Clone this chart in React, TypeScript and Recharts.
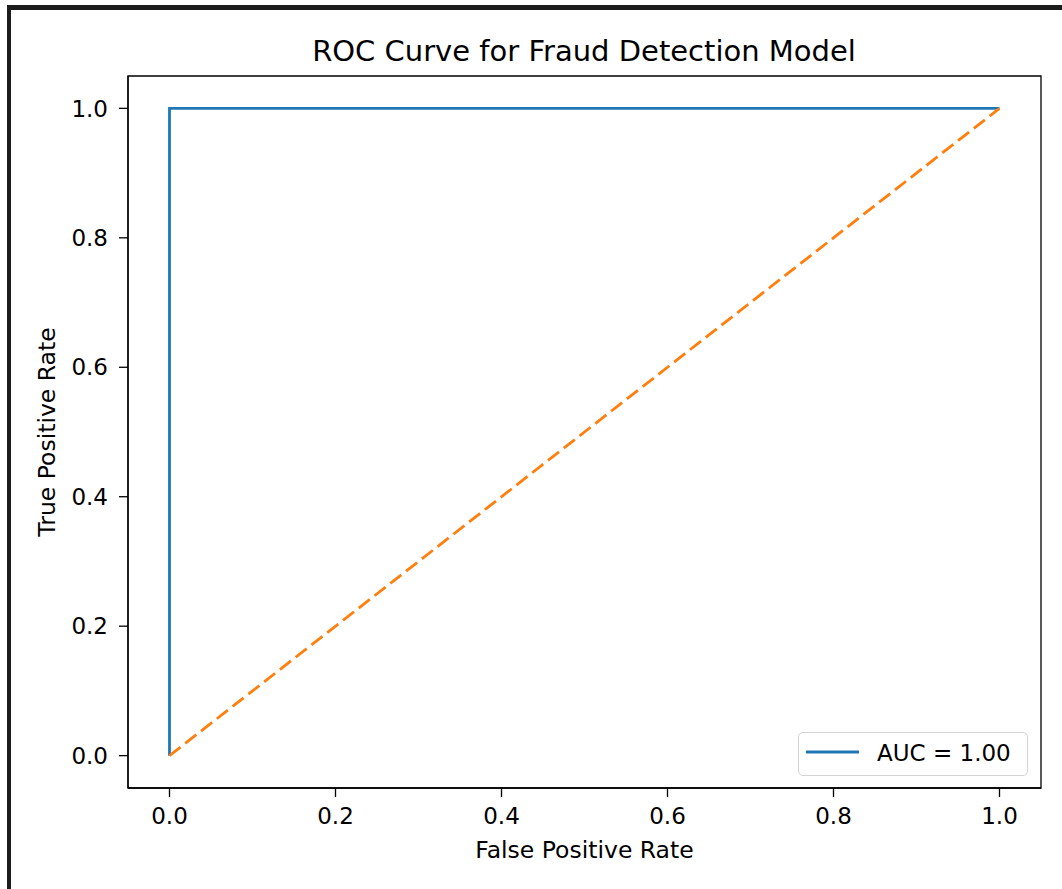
import React from 'react';
import { LineChart, Line, XAxis, YAxis, ReferenceArea } from 'recharts';

const rocFpr = [0, 0, 1];
const rocTpr = [0, 1, 1];
const diagFpr = [0, 1];
const diagTpr = [0, 1];
const xTicks = [0, 0.2, 0.4, 0.6, 0.8, 1.0];
const yTicks = [0, 0.2, 0.4, 0.6, 0.8, 1.0];
const rocLabel = 'AUC = 1.00';
const titleText = 'ROC Curve for Fraud Detection Model';
const xLabelText = 'False Positive Rate';
const yLabelText = 'True Positive Rate';

const rocData = rocFpr.map((x, i) => ({ x, y: rocTpr[i] }));
const diagData = diagFpr.map((x, i) => ({ x, y: diagTpr[i] }));

const FONT = '"DejaVu Sans", sans-serif';
const TICK_FS = 23;
const LABEL_FS = 23.5;
const TITLE_FS = 29;
const BLUE = '#1f77b4';
const ORANGE = '#ff7f0e';
const W = 1062;
const H = 889;

const YLabel = (props: any) => {
  const vb = props.viewBox || { x: 0, y: 76, width: 128, height: 712 };
  const x = vb.x + 55;
  const y = vb.y + vb.height / 2;
  return (
    <text
      x={x}
      y={y}
      transform={`rotate(-90, ${x}, ${y})`}
      textAnchor="middle"
      fontFamily={FONT}
      fontSize={LABEL_FS}
      fill="#000"
    >
      {yLabelText}
    </text>
  );
};

const XLabel = (props: any) => {
  const vb = props.viewBox || { x: 128, y: 788, width: 913, height: 101 };
  const x = vb.x + vb.width / 2;
  const y = vb.y + 70;
  return (
    <text x={x} y={y} textAnchor="middle" fontFamily={FONT} fontSize={LABEL_FS} fill="#000">
      {xLabelText}
    </text>
  );
};

export default function App() {
  return (
    <div style={{ position: 'absolute', left: 0, top: 0, width: W, height: H, background: '#fff', overflow: 'hidden' }}>
      <div
        style={{
          position: 'absolute',
          left: 7,
          top: 5,
          width: W,
          height: H,
          borderTop: '5px solid #1c1c1c',
          borderLeft: '4px solid #1c1c1c',
        }}
      />
      <div style={{ position: 'absolute', left: 0, top: 0 }}>
        <LineChart width={W} height={H} margin={{ top: 76, right: 21, left: 0, bottom: 0 }}>
          <XAxis
            dataKey="x"
            type="number"
            domain={[-0.05, 1.05]}
            ticks={xTicks}
            allowDataOverflow
            height={101}
            tickFormatter={(v: number) => v.toFixed(1)}
            tick={{ fontSize: TICK_FS, fill: '#000', fontFamily: FONT }}
            tickSize={9}
            tickMargin={11}
            axisLine={{ stroke: '#000', strokeWidth: 1.3 }}
            tickLine={{ stroke: '#000', strokeWidth: 1.3 }}
            label={XLabel}
          />
          <YAxis
            dataKey="y"
            type="number"
            domain={[-0.05, 1.05]}
            ticks={yTicks}
            allowDataOverflow
            width={128}
            tickFormatter={(v: number) => v.toFixed(1)}
            tick={{ fontSize: TICK_FS, fill: '#000', fontFamily: FONT }}
            tickSize={9}
            tickMargin={11}
            axisLine={{ stroke: '#000', strokeWidth: 1.3 }}
            tickLine={{ stroke: '#000', strokeWidth: 1.3 }}
            label={YLabel}
          />
          <ReferenceArea
            x1={-0.05}
            x2={1.05}
            y1={-0.05}
            y2={1.05}
            fill="none"
            fillOpacity={0}
            stroke="#000"
            strokeWidth={1.3}
          />
          <Line
            data={rocData}
            dataKey="y"
            type="linear"
            stroke={BLUE}
            strokeWidth={2.8}
            dot={false}
            isAnimationActive={false}
            name={rocLabel}
          />
          <Line
            data={diagData}
            dataKey="y"
            type="linear"
            stroke={ORANGE}
            strokeWidth={2.8}
            strokeDasharray="14 6"
            dot={false}
            isAnimationActive={false}
            legendType="none"
          />
        </LineChart>
      </div>
      <svg style={{ position: 'absolute', left: 0, top: 0 }} width={W} height={80}>
        <text x={584} y={61} textAnchor="middle" fontFamily={FONT} fontSize={TITLE_FS} fill="#000">
          {titleText}
        </text>
      </svg>
      <div
        style={{
          position: 'absolute',
          left: 798,
          top: 732,
          width: 230,
          height: 44,
          boxSizing: 'border-box',
          border: '1.5px solid #d3d3d3',
          borderRadius: 5,
          background: 'rgba(255,255,255,0.8)',
        }}
      >
        <svg style={{ position: 'absolute', left: 0, top: 0 }} width={230} height={44}>
          <line x1={7} y1={19} x2={60} y2={19} stroke={BLUE} strokeWidth={2.8} />
          <text x={78} y={27.5} fontFamily={FONT} fontSize={TICK_FS} fill="#000">
            {rocLabel}
          </text>
        </svg>
      </div>
    </div>
  );
}
